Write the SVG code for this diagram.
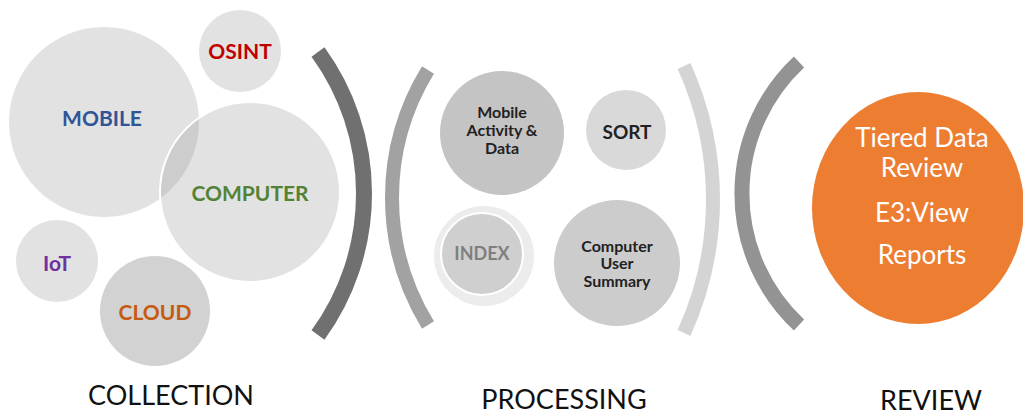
<svg xmlns="http://www.w3.org/2000/svg" width="1023" height="415" viewBox="0 0 1023 415">
<style>
text{font-family:Lato,"Open Sans","Liberation Sans",sans-serif;text-anchor:middle;dominant-baseline:central}
.b{font-weight:bold;font-size:21px}
.p{font-weight:bold;font-size:16px;fill:#222}
.lab{font-size:27px;fill:#111}
.rv{font-size:26px;fill:#fff}
.soft{fill:#969696;fill-opacity:0.28}
.arc{fill:none;stroke-linecap:butt}
</style>
<rect width="1023" height="415" fill="#fff"/>
<g id="collection">
<g id="mobile"><circle cx="104" cy="122" r="95" class="soft"/><text x="102" y="117" class="b" fill="#2F5597">MOBILE</text></g>
<g id="osint"><circle cx="240" cy="51" r="41" class="soft"/><text x="240" y="50" class="b" fill="#C00000">OSINT</text></g>
<g id="computer"><circle cx="250" cy="192" r="90" class="soft" stroke="#fff" stroke-width="2"/><text x="250" y="192" class="b" fill="#548235">COMPUTER</text></g>
<g id="iot"><circle cx="57" cy="261" r="41" class="soft"/><text x="57" y="262" class="b" fill="#7030A0">IoT</text></g>
<g id="cloud"><circle cx="155" cy="311" r="55" fill="#d2d2d2"/><text x="155" y="311" class="b" fill="#C55A11">CLOUD</text></g>
<text x="171" y="394" class="lab">COLLECTION</text>
</g>
<g id="connectors">
<path class="arc" d="M318 52 A240.6 240.6 0 0 1 318 335" stroke="#707070" stroke-width="16"/>
<path class="arc" d="M428 70 A243.8 243.8 0 0 0 428 325" stroke="#a2a2a2" stroke-width="14"/>
<path class="arc" d="M684 66 A321.8 321.8 0 0 1 684 333" stroke="#d4d4d4" stroke-width="14"/>
<path class="arc" d="M799 62 A180 180 0 0 0 799 325" stroke="#939393" stroke-width="15"/>
</g>
<g id="processing">
<g id="mobile-activity"><circle cx="502" cy="133" r="62" fill="#c4c4c4"/>
<text x="502" y="111" class="p">Mobile</text><text x="502" y="129" class="p">Activity &amp;</text><text x="502" y="147" class="p">Data</text></g>
<g id="sort"><circle cx="626" cy="130" r="40" fill="#d9d9d9"/><text x="627" y="131" class="p" style="font-size:19px">SORT</text></g>
<g id="index"><circle cx="484" cy="256" r="50" fill="#ececec"/><circle cx="482" cy="254" r="41" fill="#cfcfcf" stroke="#fff" stroke-width="2"/><text x="482" y="253" class="p" style="font-size:18px;fill:#7f7f7f">INDEX</text></g>
<g id="computer-user-summary"><circle cx="617" cy="263" r="63" fill="#cccccc"/>
<text x="617" y="245" class="p">Computer</text><text x="617" y="262" class="p">User</text><text x="617" y="280" class="p">Summary</text></g>
<text x="564" y="398" class="lab">PROCESSING</text>
</g>
<g id="review">
<g id="review-node"><ellipse cx="918" cy="208" rx="106" ry="116" fill="#ED7D31"/>
<text x="922" y="137" class="rv">Tiered Data</text><text x="922" y="167" class="rv">Review</text><text x="922" y="212" class="rv">E3:View</text><text x="922" y="254" class="rv">Reports</text></g>
<text x="931" y="399" class="lab">REVIEW</text>
</g>
</svg>
